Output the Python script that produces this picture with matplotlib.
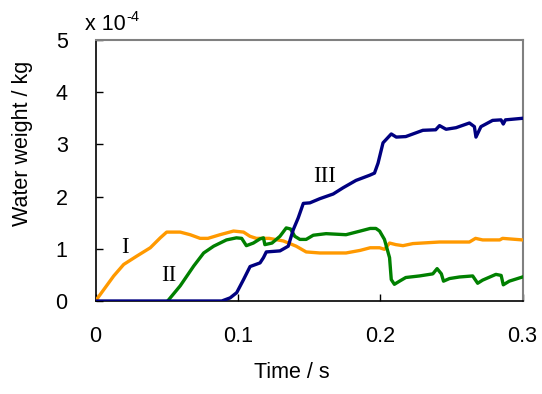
import matplotlib
matplotlib.use("Agg")
import matplotlib.pyplot as plt

# Series I (orange)
t_I = [0.0, 0.0128, 0.0198, 0.029, 0.0385, 0.0455, 0.050, 0.0595, 0.0665, 0.0735, 0.079,
       0.0875, 0.097, 0.104, 0.1085, 0.113, 0.122, 0.132, 0.141, 0.148, 0.1576, 0.176,
       0.186, 0.193, 0.1996, 0.203, 0.2066, 0.211, 0.216, 0.223, 0.2417, 0.2627, 0.267,
       0.272, 0.284, 0.286, 0.300]
w_I = [0.0, 0.48, 0.70, 0.86, 1.02, 1.21, 1.32, 1.32, 1.27, 1.20, 1.20,
       1.27, 1.34, 1.32, 1.24, 1.20, 1.20, 1.15, 1.05, 0.94, 0.92, 0.92,
       0.97, 1.02, 1.02, 0.99, 1.11, 1.08, 1.06, 1.10, 1.13, 1.13, 1.20,
       1.17, 1.17, 1.20, 1.17]

# Series II (green)
t_II = [0.0507, 0.0595, 0.069, 0.076, 0.083, 0.092, 0.099, 0.1027, 0.106, 0.1109, 0.1156,
        0.118, 0.119, 0.124, 0.1296, 0.134, 0.137, 0.140, 0.1436, 0.148, 0.153, 0.162,
        0.176, 0.186, 0.193, 0.197, 0.1996, 0.203, 0.2066, 0.2078, 0.210, 0.2136, 0.218,
        0.2276, 0.237, 0.240, 0.243, 0.2445, 0.2487, 0.2557, 0.265, 0.2685, 0.272, 0.2813,
        0.285, 0.2865, 0.2907, 0.300]
w_II = [0.0, 0.29, 0.67, 0.92, 1.05, 1.17, 1.21, 1.20, 1.06, 1.11, 1.19,
        1.21, 1.08, 1.11, 1.24, 1.40, 1.38, 1.24, 1.18, 1.18, 1.26, 1.29,
        1.27, 1.34, 1.39, 1.39, 1.34, 1.18, 0.83, 0.41, 0.32, 0.38, 0.45,
        0.48, 0.52, 0.62, 0.52, 0.38, 0.43, 0.46, 0.48, 0.34, 0.40, 0.51,
        0.49, 0.31, 0.38, 0.46]

# Series III (navy)
t_III = [0.0, 0.0887, 0.0946, 0.0992, 0.104, 0.1086, 0.1156, 0.118, 0.120, 0.1296, 0.1354,
         0.139, 0.1424, 0.146, 0.1506, 0.1576, 0.167, 0.174, 0.183, 0.1927, 0.196, 0.1985,
         0.202, 0.2078, 0.2113, 0.218, 0.230, 0.239, 0.2417, 0.2463, 0.2533, 0.2627, 0.2662,
         0.2673, 0.2708, 0.279, 0.2849, 0.2865, 0.288, 0.300]
w_III = [0.0, 0.0, 0.06, 0.16, 0.41, 0.66, 0.73, 0.83, 0.94, 0.96, 1.05,
         1.37, 1.59, 1.87, 1.88, 1.96, 2.05, 2.17, 2.31, 2.41, 2.45, 2.64,
         3.03, 3.20, 3.14, 3.15, 3.27, 3.28, 3.36, 3.29, 3.32, 3.41, 3.34,
         3.14, 3.34, 3.46, 3.47, 3.39, 3.47, 3.50]

x_ticks = [0, 0.1, 0.2, 0.3]
x_tick_labels = ["0", "0.1", "0.2", "0.3"]
y_ticks = [0, 1, 2, 3, 4, 5]
y_tick_labels = ["0", "1", "2", "3", "4", "5"]
series_labels = ["I", "II", "III"]
label_pos = [(0.0206, 1.02), (0.0514, 0.48), (0.161, 2.39)]

plt.rcParams['font.family'] = ['Liberation Sans', 'DejaVu Sans']
FS = 15.5

fig = plt.figure(figsize=(5.42, 3.94), dpi=100)
ax = fig.add_axes([95.5 / 542, 1 - 301 / 394, (522.5 - 95.5) / 542, (301 - 40) / 394])

lw = 2.4
ax.plot(t_I, w_I, color="#FF9900", lw=lw, solid_joinstyle="round", zorder=3)
ax.plot(t_II, w_II, color="#008000", lw=lw, solid_joinstyle="round", zorder=3)
ax.plot(t_III, w_III, color="#000080", lw=lw, solid_joinstyle="round", zorder=4)

for lab, (tx, ty) in zip(series_labels, label_pos):
    ax.text(tx, ty, lab, family=['Liberation Serif', 'DejaVu Serif'], fontsize=16.5,
            ha="center", va="center", color="black")

ax.set_xlim(0, 0.3)
ax.set_ylim(0, 5)
ax.set_xticks(x_ticks)
ax.set_xticklabels(x_tick_labels, fontsize=FS)
ax.set_yticks(y_ticks)
ax.set_yticklabels(y_tick_labels, fontsize=FS)
ax.tick_params(axis="both", direction="in", length=5, width=1, colors="black")
ax.tick_params(axis="x", pad=18)
ax.tick_params(axis="y", pad=20)

for s in ["left", "bottom"]:
    ax.spines[s].set_color("black")
    ax.spines[s].set_linewidth(1.2)
for s in ["top", "right"]:
    ax.spines[s].set_color("#808080")
    ax.spines[s].set_linewidth(1.5)

fig.text(292 / 542, 1 - 373 / 394, "Time / s", fontsize=FS, ha="center", va="center")
fig.text(23 / 542, 1 - 143 / 394, "Water weight / kg", fontsize=FS, ha="center",
         va="center", rotation=90)

# Scale multiplier "x 10-4" with plain hyphen superscript
base = fig.text(85 / 542, 1 - 25 / 394, "x 10", fontsize=FS, ha="left", va="center")
fig.text(0, 0, "").set_visible(False)
ax.annotate("-4", xy=(1.0, 0.55), xycoords=base, xytext=(0.5, 0),
            textcoords="offset points", fontsize=10.5, ha="left", va="bottom",
            annotation_clip=False)

fig.savefig("out.png", dpi=100)
